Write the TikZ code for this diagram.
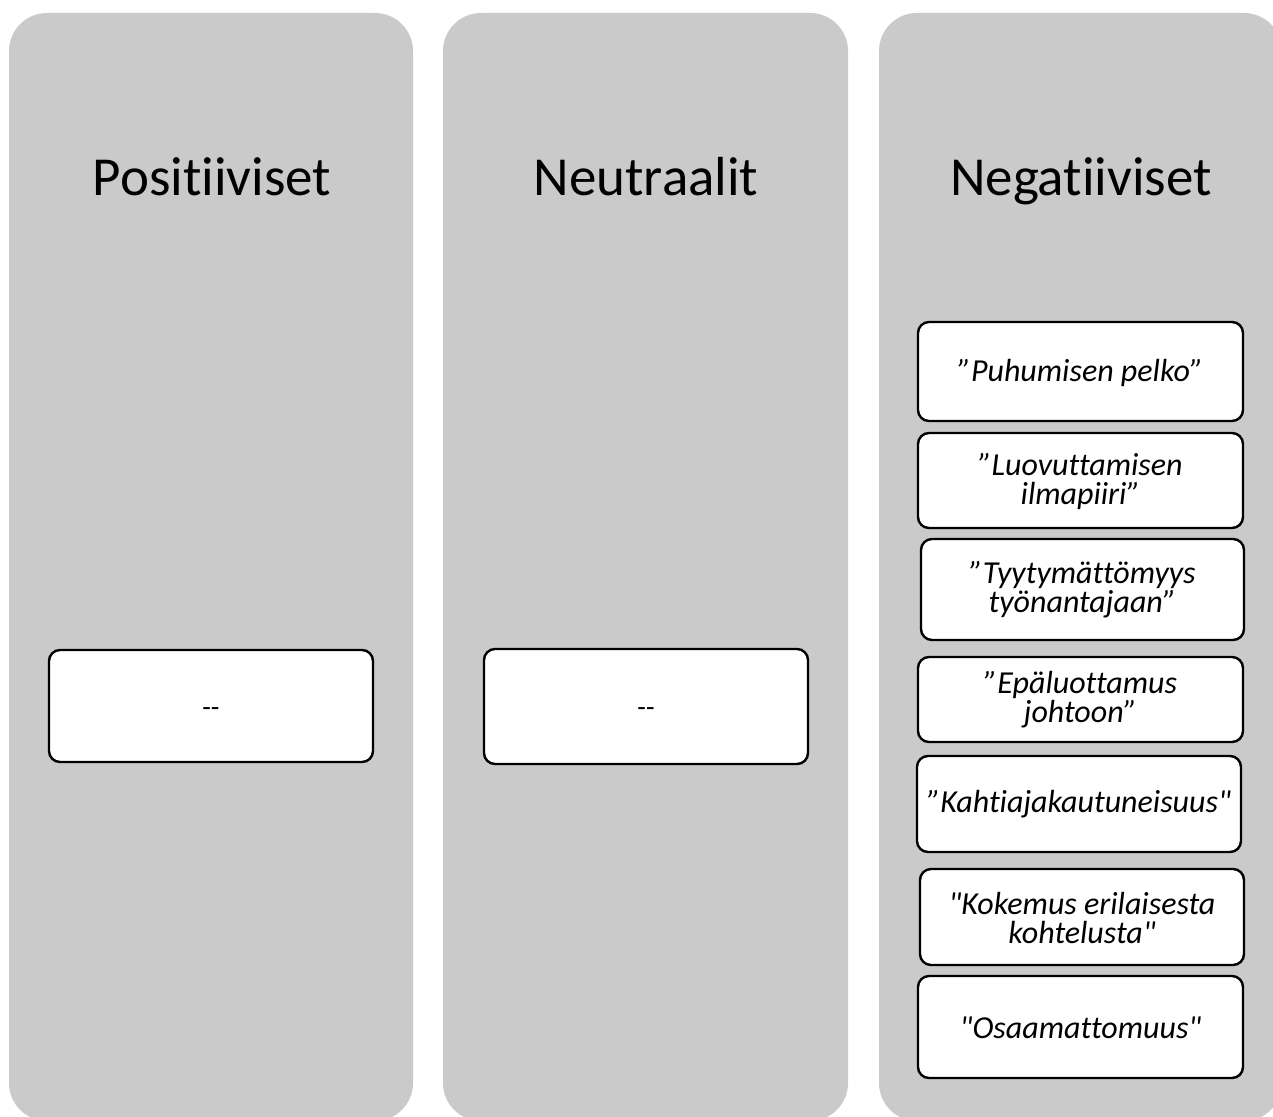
\documentclass[tikz,border=0pt]{standalone}
\usepackage{fontspec}
\setmainfont{Carlito}[Ligatures={TeXOff,CommonOff}]
\begin{document}
\begin{tikzpicture}[x=1pt,y=-1pt,
  column/.style={fill=colgray, rounded corners=38pt},
  title/.style={anchor=base, font=\fontsize{55}{64}\selectfont},
  item/.style={draw=black, line width=2.4pt, fill=white, rounded corners=11pt},
  itemtext/.style={align=center, font=\fontsize{32}{29}\selectfont\itshape, inner sep=0pt},
  dashtext/.style={font=\fontsize{28}{29}\selectfont, inner sep=0pt}]
\definecolor{colgray}{HTML}{CACACA}
\useasboundingbox (0,0) rectangle (1273,1116);
\clip (0,0) rectangle (1273,1116);
\fill[white] (0,0) rectangle (1273,1116);

% three category columns
\fill[column] (9,13) rectangle (413,1121);
\fill[column] (443,13) rectangle (848,1121);
\fill[column] (879,13) rectangle (1282,1121);

% column headings
\node[title] (tpos) at (212,195) {Positiiviset};
\node[title] (tneu) at (646,195) {Neutraalit};
\node[title] (tneg) at (1081,195) {Negatiiviset};

% positive and neutral boxes
\draw[item] (49,650) rectangle (373,762);
\node[dashtext] (pos) at (211,712) {--};
\draw[item] (484,649) rectangle (808,764);
\node[dashtext] (neu) at (646,712) {--};

% negative boxes
\draw[item] (918,322) rectangle (1243,421);
\node[itemtext] (n1) at (1080.5,372.5) {”Puhumisen pelko”};
\draw[item] (918,433) rectangle (1243,528);
\node[itemtext] (n2) at (1080.5,481) {”Luovuttamisen\\ilmapiiri”};
\draw[item] (921,539) rectangle (1244,640);
\node[itemtext] (n3) at (1082.5,590) {”Tyytymättömyys\\työnantajaan”};
\draw[item] (918,657) rectangle (1243,742);
\node[itemtext] (n4) at (1080.5,700) {”Epäluottamus\\johtoon”};
\draw[item] (917,756) rectangle (1241,852);
\node[itemtext] (n5) at (1079,804.5) {”Kahtiajakautuneisuus"};
\draw[item] (920,869) rectangle (1244,965);
\node[itemtext] (n6) at (1082,917.5) {"Kokemus erilaisesta\\kohtelusta"};
\draw[item] (918,976) rectangle (1243,1078);
\node[itemtext] (n7) at (1080.5,1027.5) {"Osaamattomuus"};
\end{tikzpicture}
\end{document}
